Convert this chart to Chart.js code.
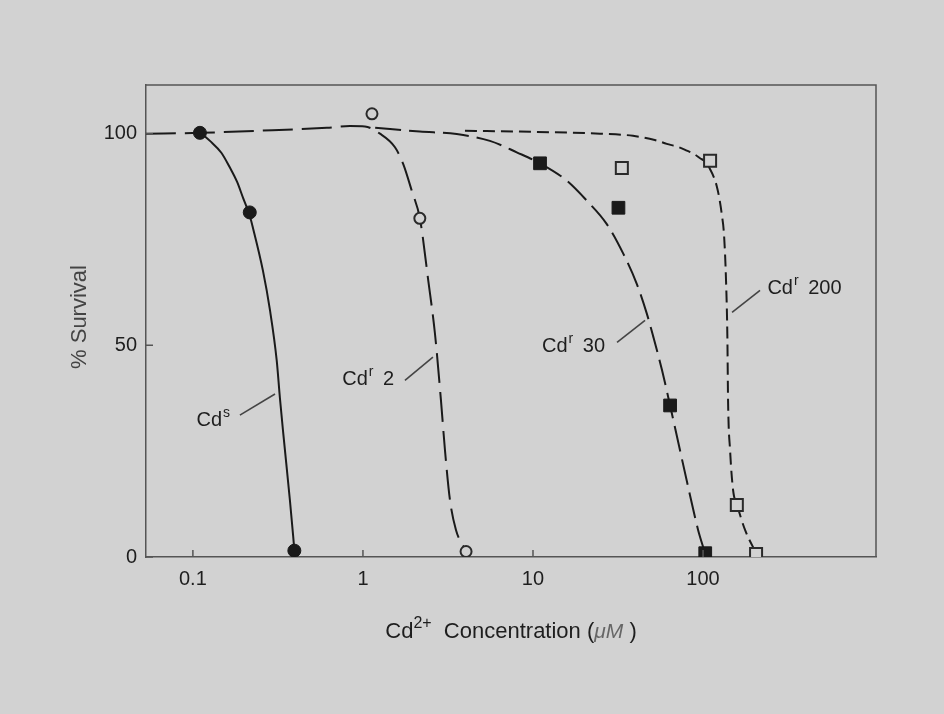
<!DOCTYPE html>
<html>
<head>
<meta charset="utf-8">
<script src="https://cdn.jsdelivr.net/npm/chart.js@4"></script>
<style>
html,body{margin:0;padding:0;background:#d2d2d2;}
canvas{display:block;}
</style>
</head>
<body>
<canvas id="c" width="944" height="714"></canvas>
<script>
// ---- tick labels ----
const xTickValues = [0.1, 1, 10, 100];
const xTickLabels = ['0.1', '1', '10', '100'];
const yTickValues = [0, 50, 100];

// ---- measured points ----
const cdsX = [0.11, 0.216, 0.395];
const cdsY = [100.2, 81.4, 1.5];
const cdr2X = [1.13, 2.16, 4.04];
const cdr2Y = [104.7, 80.0, 1.3];
const cdr30X = [11.0, 31.8, 64.0, 103];
const cdr30Y = [93.0, 82.5, 35.8, 0.9];
const cdr200X = [33.3, 110, 158, 205];
const cdr200Y = [91.9, 93.6, 12.3, 0.7];

// ---- hand-drawn fitted curves ----
const cdsCurveX = [0.110, 0.126, 0.147, 0.165, 0.182, 0.197, 0.216, 0.225, 0.258, 0.284, 0.311, 0.325, 0.340, 0.372, 0.389, 0.395];
const cdsCurveY = [100.4, 98.3, 95.5, 92.0, 88.6, 84.9, 80.6, 77.9, 67.7, 58.3, 46.5, 37.5, 29.2, 13.4, 4.8, 1.6];
const cdr2CurveX = [0.0529, 0.110, 0.248, 0.614, 0.839, 1.027, 1.259, 1.543, 1.726, 1.934, 2.164, 2.422, 2.651, 2.876, 3.037, 3.25, 3.524, 4.036];
const cdr2CurveY = [100.0, 100.2, 100.7, 101.4, 101.8, 101.7, 100.0, 96.8, 92.8, 86.6, 79.9, 65.3, 52.8, 37.0, 25.2, 13.4, 6.4, 1.4];
const cdr30CurveX = [1.18, 2.16, 3.56, 5.58, 8.02, 10.99, 15.8, 20.7, 27.1, 34.0, 40.7, 46.7, 51.0, 57.4, 64.0, 73.2, 83.8, 93.5, 102.8];
const cdr30CurveY = [101.4, 100.5, 99.9, 98.3, 95.6, 93.0, 88.9, 84.2, 78.7, 71.6, 64.6, 57.5, 52.0, 44.1, 35.8, 25.2, 14.6, 6.4, 0.9];
const cdr200CurveX = [3.98, 8.38, 24.8, 38.7, 52.0, 61.2, 72.0, 80.2, 88.5, 96.0, 103, 110, 115.5, 120.4, 125.0, 128.8, 132.9, 136.5, 139.0, 140.3, 144.2, 150.2, 158.5, 176.6, 205.1];
const cdr200CurveY = [100.7, 100.5, 100.0, 99.5, 98.5, 97.6, 96.8, 96.0, 95.2, 94.2, 93.4, 91.6, 89.8, 87.6, 84.5, 81.0, 76.0, 65.3, 52.0, 37.0, 25.2, 15.8, 12.3, 6.4, 0.9];

const BG = '#d2d2d2';
const INK = '#1a1a1a';
const FONT = '"Liberation Sans", Arial, Helvetica, sans-serif';

function pts(xs, ys) { return xs.map((x, i) => ({ x: x, y: ys[i] })); }

function curve(xs, ys, dash) {
  return { type: 'scatter', data: pts(xs, ys), showLine: true, borderColor: INK, borderWidth: 2,
    borderDash: dash, pointRadius: 0, pointHoverRadius: 0, cubicInterpolationMode: 'monotone',
    fill: false, order: 2 };
}
function marks(xs, ys, style, r, filled) {
  return { type: 'scatter', data: pts(xs, ys), showLine: false, pointStyle: style, pointRadius: r,
    pointHoverRadius: r, pointBackgroundColor: filled ? INK : BG, pointBorderColor: filled ? INK : '#2a2a2a',
    pointBorderWidth: filled ? 1 : 2, order: 1 };
}

// annotation labels (data-space anchors)
const annotations = [
  { main: 'Cd', sup: 's', rest: '', x: 0.105, y: 32.5, line: [0.189, 33.5, 0.304, 38.5] },
  { main: 'Cd', sup: 'r', rest: ' 2', x: 0.755, y: 42.2, line: [1.766, 41.7, 2.58, 47.2] },
  { main: 'Cd', sup: 'r', rest: ' 30', x: 11.3, y: 50.0, line: [31.2, 50.7, 45.6, 55.9] },
  { main: 'Cd', sup: 'r', rest: ' 200', x: 239, y: 63.7, line: [148.1, 57.8, 216.3, 63.0] }
];

const decor = {
  id: 'decor',
  beforeDraw(chart) {
    const ctx = chart.ctx;
    ctx.save();
    ctx.fillStyle = BG;
    ctx.fillRect(0, 0, chart.width, chart.height);
    ctx.restore();
  },
  afterDraw(chart) {
    const ctx = chart.ctx, a = chart.chartArea;
    const xs = chart.scales.x, ys = chart.scales.y;
    ctx.save();
    // frame top & right
    ctx.strokeStyle = '#555';
    ctx.lineWidth = 1.5;
    ctx.beginPath();
    ctx.moveTo(a.left, a.top); ctx.lineTo(a.right, a.top); ctx.lineTo(a.right, a.bottom);
    ctx.stroke();
    // inward ticks
    ctx.beginPath();
    xTickValues.forEach(v => { const px = xs.getPixelForValue(v); ctx.moveTo(px, a.bottom); ctx.lineTo(px, a.bottom - 7); });
    yTickValues.forEach(v => { const py = ys.getPixelForValue(v); ctx.moveTo(a.left, py); ctx.lineTo(a.left + 7, py); });
    ctx.stroke();

    // annotations
    ctx.fillStyle = '#1e1e1e';
    ctx.textBaseline = 'alphabetic';
    annotations.forEach(an => {
      const px = xs.getPixelForValue(an.x), py = ys.getPixelForValue(an.y) + 7;
      ctx.font = '20px ' + FONT;
      ctx.textAlign = 'left';
      ctx.fillText(an.main, px, py);
      let w = ctx.measureText(an.main).width;
      ctx.font = '14px ' + FONT;
      ctx.fillText(an.sup, px + w + 1, py - 9);
      w += ctx.measureText(an.sup).width + 1;
      ctx.font = '20px ' + FONT;
      ctx.fillText(an.rest, px + w + 4, py);
      ctx.strokeStyle = '#444';
      ctx.lineWidth = 1.6;
      ctx.beginPath();
      ctx.moveTo(xs.getPixelForValue(an.line[0]), ys.getPixelForValue(an.line[1]));
      ctx.lineTo(xs.getPixelForValue(an.line[2]), ys.getPixelForValue(an.line[3]));
      ctx.stroke();
    });

    // x axis title with superscript and italic
    const parts = [
      { t: 'Cd', f: '22px ' + FONT, dy: 0 },
      { t: '2+', f: '16px ' + FONT, dy: -10 },
      { t: '  Concentration (', f: '22px ' + FONT, dy: 0 },
      { t: 'μM', f: 'italic 21px ' + FONT, dy: 0, c: '#666' },
      { t: ' )', f: '22px ' + FONT, dy: 0 }
    ];
    let total = 0;
    parts.forEach(p => { ctx.font = p.f; p.w = ctx.measureText(p.t).width; total += p.w; });
    let cx = (a.left + a.right) / 2 - total / 2;
    const by = a.bottom + 81;
    parts.forEach(p => {
      ctx.font = p.f; ctx.fillStyle = p.c || '#1e1e1e'; ctx.textAlign = 'left';
      ctx.fillText(p.t, cx, by + p.dy); cx += p.w;
    });

    // y axis title
    ctx.save();
    ctx.translate(80, (a.top + a.bottom) / 2 - 4);
    ctx.rotate(-Math.PI / 2);
    ctx.font = '22px ' + FONT;
    ctx.fillStyle = '#444';
    ctx.textAlign = 'center';
    ctx.textBaseline = 'middle';
    ctx.fillText('% Survival', 0, 0);
    ctx.restore();
    ctx.restore();
  }
};

new Chart(document.getElementById('c'), {
  type: 'scatter',
  data: {
    datasets: [
      curve(cdsCurveX, cdsCurveY, []),
      curve(cdr2CurveX, cdr2CurveY, [30, 9]),
      curve(cdr30CurveX, cdr30CurveY, [26, 8]),
      curve(cdr200CurveX, cdr200CurveY, [12, 6]),
      marks(cdsX, cdsY, 'circle', 6.5, true),
      marks(cdr2X, cdr2Y, 'circle', 5.5, false),
      marks(cdr30X, cdr30Y, 'rect', 9, true),
      marks(cdr200X, cdr200Y, 'rect', 8.5, false)
    ]
  },
  options: {
    responsive: false,
    devicePixelRatio: 1,
    animation: false,
    events: [],
    layout: { padding: { top: 85, right: 68, left: 0, bottom: 0 } },
    plugins: { legend: { display: false }, tooltip: { enabled: false } },
    scales: {
      x: {
        type: 'logarithmic', min: 0.053, max: 1040,
        afterBuildTicks: s => { s.ticks = xTickValues.map(v => ({ value: v })); },
        afterFit: s => { s.height = 157; },
        grid: { display: false, drawTicks: false },
        border: { display: true, color: '#555', width: 1.5 },
        ticks: { autoSkip: false, maxRotation: 0, padding: 10, color: '#1e1e1e',
          font: { family: FONT, size: 20 },
          callback: (v) => { const i = xTickValues.indexOf(v); return i >= 0 ? xTickLabels[i] : ''; } }
      },
      y: {
        type: 'linear', min: 0, max: 111.5,
        afterBuildTicks: s => { s.ticks = yTickValues.map(v => ({ value: v })); },
        afterFit: s => { s.width = 146; },
        grid: { display: false, drawTicks: false },
        border: { display: true, color: '#555', width: 1.5 },
        ticks: { padding: 9, color: '#1e1e1e', font: { family: FONT, size: 20 } }
      }
    }
  },
  plugins: [decor]
});
</script>
</body>
</html>
